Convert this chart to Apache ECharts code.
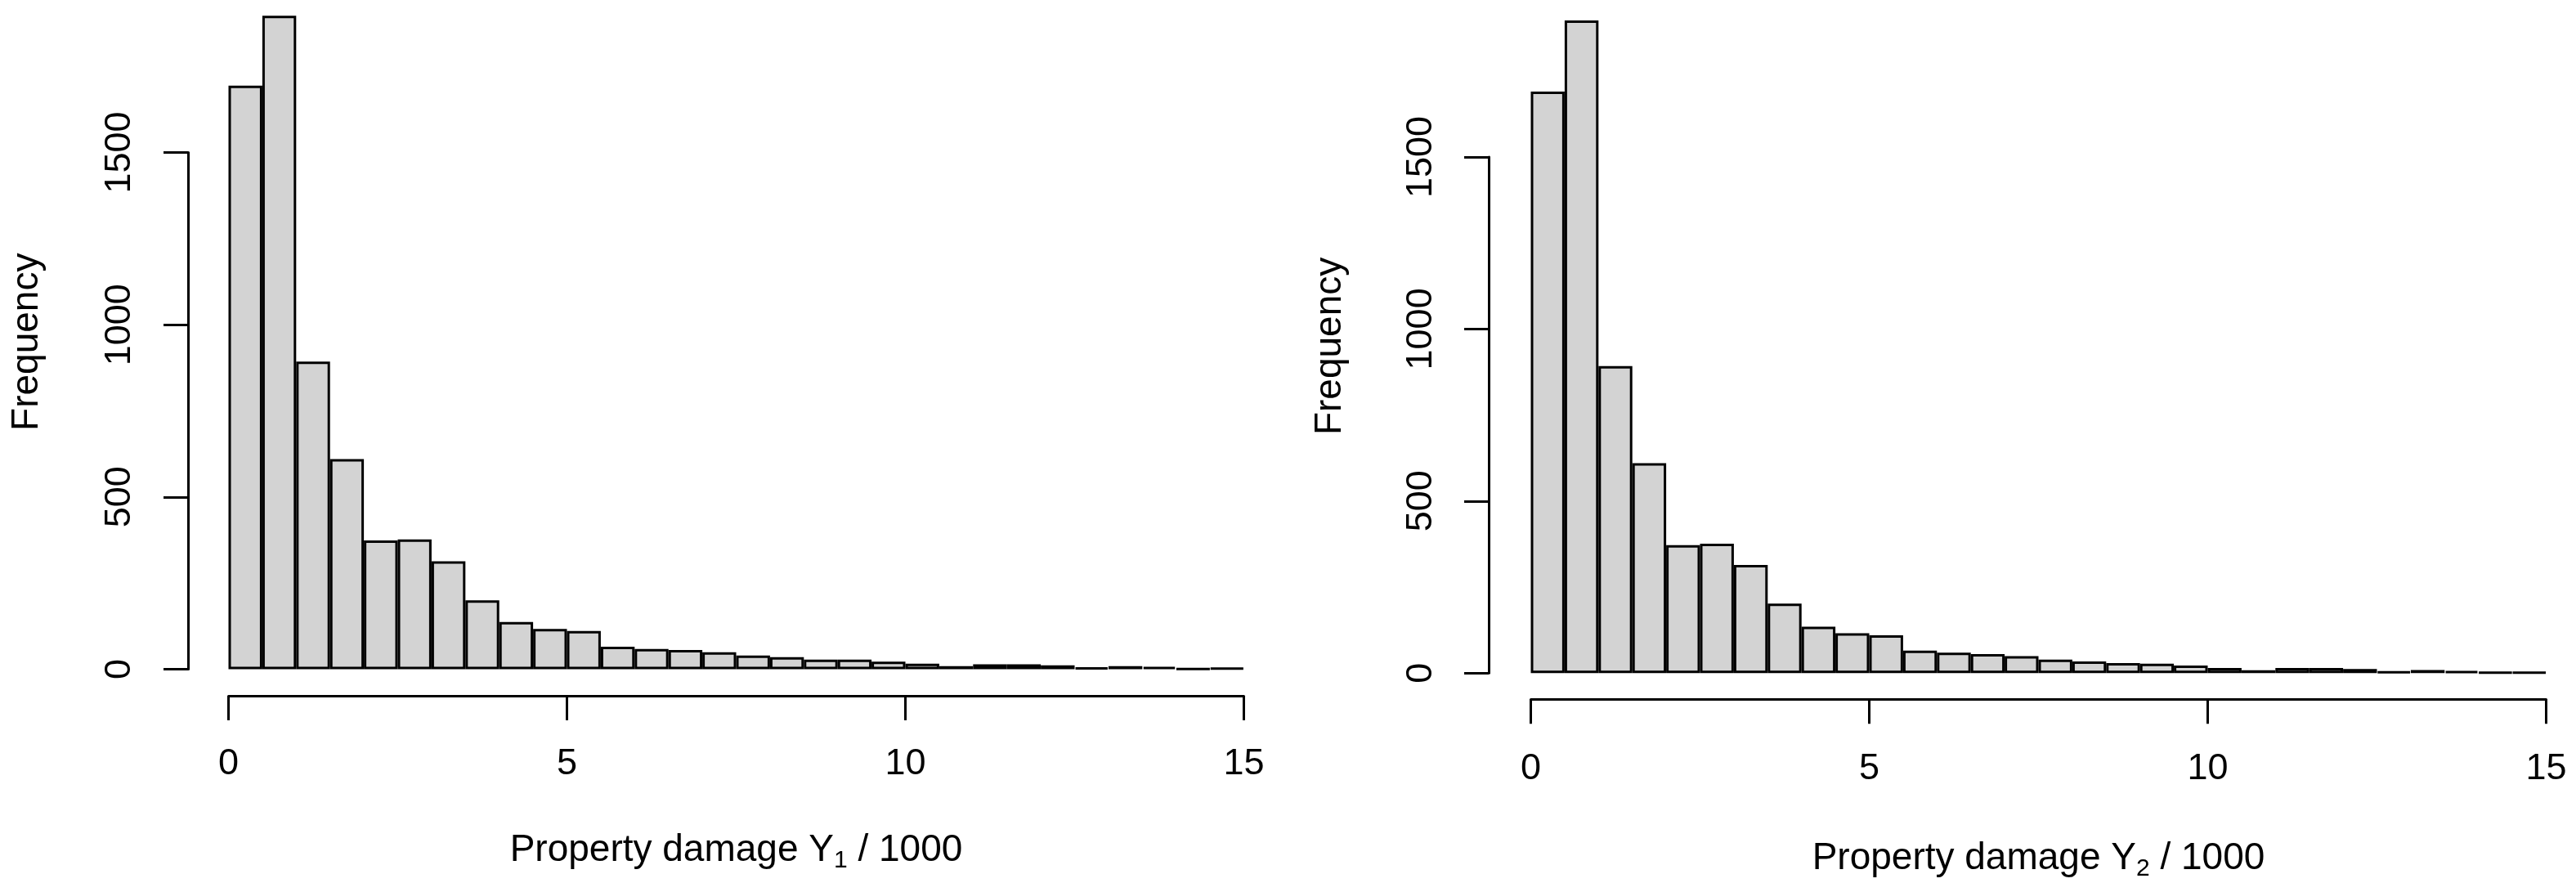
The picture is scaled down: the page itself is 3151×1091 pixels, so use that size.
<!DOCTYPE html>
<html>
<head>
<meta charset="utf-8">
<script src="https://cdn.jsdelivr.net/npm/echarts@6/dist/echarts.min.js"></script>
<style>
html,body{margin:0;padding:0;background:#fff;}
#c{width:3151px;height:1091px;}
</style>
</head>
<body>
<div id="c"></div>
<script>
// Histogram bins (width 0.5, in thousands)
const bins = ["0-0.5","0.5-1","1-1.5","1.5-2","2-2.5","2.5-3","3-3.5","3.5-4","4-4.5","4.5-5",
  "5-5.5","5.5-6","6-6.5","6.5-7","7-7.5","7.5-8","8-8.5","8.5-9","9-9.5","9.5-10",
  "10-10.5","10.5-11","11-11.5","11.5-12","12-12.5","12.5-13","13-13.5","13.5-14","14-14.5","14.5-15"];
const countsY1 = [1694, 1897, 893, 610, 374, 377, 313, 200, 137, 117,
  111, 65, 59, 56, 49, 40, 35, 28, 28, 22,
  16, 9, 14, 14, 11, 5, 9, 7, 1, 3];
const countsY2 = [1690, 1897, 892, 610, 372, 376, 314, 202, 135, 116,
  110, 65, 59, 55, 49, 39, 34, 29, 27, 22,
  15, 8, 15, 15, 12, 4, 9, 6, 2, 2];
const xTicks = [0, 5, 10, 15];
const yTicks = [0, 500, 1000, 1500];
const titles = ["1", "2"];

const FONT = "Liberation Sans";
const FS = 45;
const FT = 46;

function panel(idx, L) {
  const g0 = idx * 2;
  const g1 = idx * 2 + 1;
  return {
    grids: [
      {left: L.barLeft, width: 1242, top: L.base - 1900 * L.ppu, height: 1900 * L.ppu},
      {left: L.axisX, width: 1242, top: L.base - 1500 * L.ppu, height: 1500 * L.ppu}
    ],
    xAxes: [
      {gridIndex: g0, type: 'category', data: bins, show: false, boundaryGap: true},
      {gridIndex: g0, type: 'value', min: xTicks[0], max: xTicks[xTicks.length-1], interval: 5,
        position: 'bottom', offset: L.xOff,
        axisLine: {show: true, lineStyle: {color: '#000', width: 3}},
        axisTick: {show: true, length: 30, lineStyle: {color: '#000', width: 3}},
        axisLabel: {show: true, color: '#000', fontFamily: FONT, fontSize: FS, lineHeight: FS, margin: L.xLabMargin,
          formatter: v => xTicks.indexOf(v) >= 0 ? String(v) : ''},
        splitLine: {show: false},
        name: '{m|Property damage Y}{s|' + titles[idx] + '}{m| / 1000}',
        nameLocation: 'middle', nameGap: L.nameGap,
        nameTextStyle: {rich: {
          m: {fontFamily: FONT, fontSize: FT, lineHeight: FT, color: '#000'},
          s: {fontFamily: FONT, fontSize: 30, lineHeight: 30, color: '#000', padding: [26, 0, 0, 0]}
        }}
      },
      {gridIndex: g1, type: 'value', min: 0, max: 1, show: false}
    ],
    yAxes: [
      {gridIndex: g0, type: 'value', min: 0, max: 1900, position: 'left', offset: L.barLeft - L.axisX,
        axisLine: {show: false}, axisTick: {show: false}, axisLabel: {show: false}, splitLine: {show: false},
        name: 'Frequency', nameLocation: 'middle', nameGap: L.yNameGap,
        nameTextStyle: {fontFamily: FONT, fontSize: FT, lineHeight: FT, color: '#000'}
      },
      {gridIndex: g1, type: 'value', min: yTicks[0], max: yTicks[yTicks.length-1], interval: 500, position: 'left',
        axisLine: {show: true, lineStyle: {color: '#000', width: 3}},
        axisTick: {show: true, length: 30, lineStyle: {color: '#000', width: 3}},
        axisLabel: {show: true, rotate: 90, color: '#000', fontFamily: FONT, fontSize: FS, lineHeight: FS, margin: L.yLabMargin,
          formatter: v => yTicks.indexOf(v) >= 0 ? String(v) : ''},
        splitLine: {show: false}
      }
    ]
  };
}

const P1 = panel(0, {barLeft: 279.5, axisX: 230, base: 818.5, ppu: 632 / 1500, xOff: 32.5, xLabMargin: 61, nameGap: 166, yNameGap: 174, yLabMargin: 61});
const P2 = panel(1, {barLeft: 1872.5, axisX: 1821, base: 823.2, ppu: 631.2 / 1500, xOff: 32, xLabMargin: 63, nameGap: 172, yNameGap: 171, yLabMargin: 60});

const barStyle = {color: '#d3d3d3', borderColor: '#000', borderWidth: 3};

const option = {
  backgroundColor: '#fff',
  animation: false,
  grid: [...P1.grids, ...P2.grids],
  xAxis: [...P1.xAxes, ...P2.xAxes],
  yAxis: [...P1.yAxes, ...P2.yAxes],
  series: [
    {type: 'bar', xAxisIndex: 0, yAxisIndex: 0, data: countsY1, barWidth: '100%', barCategoryGap: '0%', itemStyle: barStyle},
    {type: 'bar', xAxisIndex: 3, yAxisIndex: 2, data: countsY2, barWidth: '100%', barCategoryGap: '0%', itemStyle: barStyle}
  ]
};

const chart = echarts.init(document.getElementById('c'), null, {renderer: 'canvas'});
chart.setOption(option);
</script>
</body>
</html>
